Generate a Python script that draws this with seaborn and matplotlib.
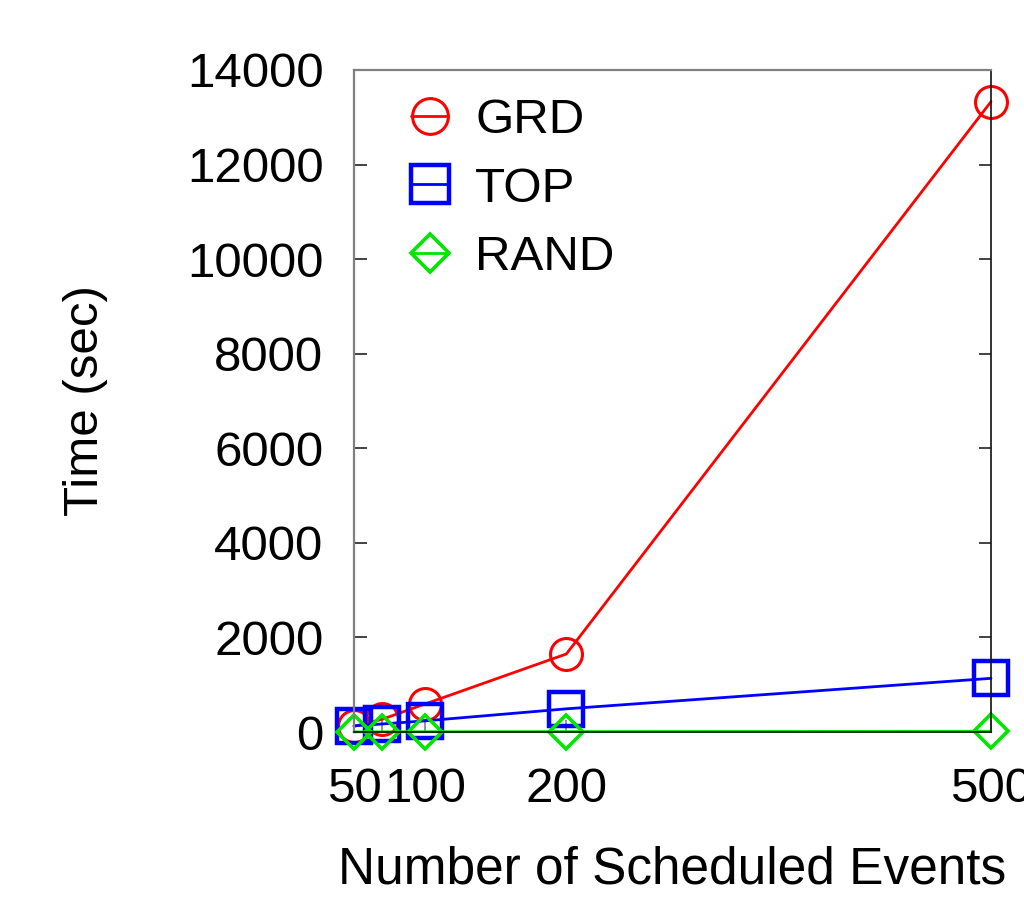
import matplotlib
matplotlib.use("Agg")
import matplotlib.pyplot as plt
import seaborn as sns
from matplotlib.lines import Line2D

# Scheduling run time versus number of scheduled events
events = [50, 70, 100, 200, 500]
grd_time = [120, 270, 590, 1650, 13330]
top_time = [130, 170, 235, 490, 1135]
rand_time = [3, 4, 6, 9, 15]

series_names = ["GRD", "TOP", "RAND"]
x_ticks = [50, 70, 100, 200, 500]
x_tick_labels = ["50", "", "100", "200", "500"]
y_ticks = [0, 2000, 4000, 6000, 8000, 10000, 12000, 14000]

sns.set_theme(style="white")
plt.rcParams["font.family"] = ["Liberation Sans", "DejaVu Sans"]
plt.rcParams["text.color"] = "black"
plt.rcParams["axes.labelcolor"] = "black"
plt.rcParams["xtick.labelcolor"] = "black"
plt.rcParams["ytick.labelcolor"] = "black"
FS = 35.5

fig = plt.figure(figsize=(10.24, 9), dpi=100)
ax = fig.add_axes([354 / 1024, 168 / 900, 637 / 1024, 662 / 900])

styles = [
    dict(color="#ff0000", marker="o", markersize=23, mew=2.2),
    dict(color="#0000ff", marker="s", markersize=24, mew=3.2),
    dict(color="#00e600", marker="D", markersize=17, mew=2.6),
]

for name, values, st in zip(series_names, [grd_time, top_time, rand_time], styles):
    sns.lineplot(
        x=events, y=values, ax=ax, color=st["color"], linewidth=2,
        marker=st["marker"], markersize=st["markersize"],
        markerfacecolor="none", markeredgecolor=st["color"],
        markeredgewidth=st["mew"], clip_on=False, legend=False,
    )

ax.set_xlim(50, 500)
ax.set_ylim(0, 14000)
ax.set_xticks(x_ticks)
ax.set_xticklabels(x_tick_labels, fontsize=FS)
ax.set_yticks(y_ticks)
ax.set_yticklabels([str(v) for v in y_ticks], fontsize=FS)

ax.tick_params(axis="y", direction="in", length=9, width=1.2, color="#222222",
               left=True, right=True, pad=22, labelcolor="black")
ax.tick_params(axis="x", direction="in", length=9, width=1.2, color="#808080",
               bottom=True, top=False, pad=25, labelcolor="black")

for side in ["left", "top"]:
    ax.spines[side].set_color("#808080")
    ax.spines[side].set_linewidth(1.6)
for side in ["right", "bottom"]:
    ax.spines[side].set_color("#111111")
    ax.spines[side].set_linewidth(1.2)

ax.set_xlabel("Number of Scheduled Events", fontsize=37, labelpad=24,
              color="black")
ax.set_ylabel("")
fig.text(85 / 1024, 1 - 401 / 900, "Time (sec)", rotation=90,
         ha="center", va="center", fontsize=FS, color="black")

handles = [
    Line2D([], [], color=st["color"], linewidth=2, marker=st["marker"],
           markersize=st["markersize"] * 1.12, markerfacecolor="none",
           markeredgecolor=st["color"], markeredgewidth=st["mew"])
    for st in styles
]
leg = ax.legend(handles, series_names, loc="upper left", frameon=False,
                fontsize=FS, handlelength=0.75, handletextpad=0.55,
                labelspacing=0.47, borderpad=0, borderaxespad=0,
                bbox_to_anchor=(0.0895, 0.957))
for t in leg.get_texts():
    t.set_color("black")

fig.savefig("out.png", dpi=100, facecolor="white")
